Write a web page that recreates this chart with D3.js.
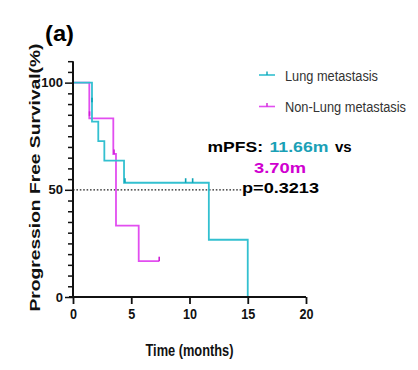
<!DOCTYPE html>
<html><head><meta charset="utf-8">
<script src="https://cdn.jsdelivr.net/npm/d3@7"></script>
<style>
html,body{margin:0;padding:0;background:#fff;}
svg{display:block;font-family:"Liberation Sans",Arial,Helvetica,sans-serif;}
</style></head>
<body><svg id="c" width="418" height="370"></svg>
<script>
// ---- data ----
const seriesNames = ["Lung metastasis", "Non-Lung metastasis"];
const lungTimes    = [0, 1.63, 2.17, 2.69, 4.38, 11.66, 15.0];
const lungSurv     = [100, 81.8, 72.7, 63.6, 53.3, 26.7, 0];
const lungEnd      = 15.0;
const lungCensT    = [1.63, 4.46, 9.67, 10.27];
const lungCensS    = [90.9, 53.3, 53.3, 53.3];
const nonLungTimes = [0, 1.40, 3.46, 3.69, 5.64];
const nonLungSurv  = [100, 83.3, 66.7, 33.3, 16.7];
const nonLungEnd   = 7.4;
const nonLungCensT = [1.42, 3.52, 7.4];
const nonLungCensS = [84.5, 66.7, 16.7];
const xTicks = [0, 5, 10, 15, 20];
const yTickLabels = [0, 50, 100];
const medianLine = 50;

const colLung = "#33c0d0", colLungDark = "#0aa3b5";
const colNon = "#e24ef0", colNonDark = "#cf1fd6";

const svg = d3.select("#c");
const x = d3.scaleLinear().domain([0, 20]).range([73, 306]);
const y = d3.scaleLinear().domain([0, 110]).range([297, 61.2]);

// median dotted line
svg.append("line").attr("x1", x(0)).attr("x2", 242)
  .attr("y1", y(medianLine)).attr("y2", y(medianLine))
  .attr("stroke", "#222").attr("stroke-width", 1.3).attr("stroke-dasharray", "1.6,1.8");

// step paths
function stepPts(ts, ss, end) {
  const pts = ts.map((t, i) => [t, ss[i]]);
  if (end > ts[ts.length - 1]) pts.push([end, ss[ss.length - 1]]);
  return pts;
}
const line = d3.line().x(d => x(d[0])).y(d => y(d[1])).curve(d3.curveStepAfter);
svg.append("path").datum(stepPts(nonLungTimes, nonLungSurv, nonLungEnd))
  .attr("d", line).attr("fill", "none").attr("stroke", colNon).attr("stroke-width", 1.8);
svg.append("path").datum(stepPts(lungTimes, lungSurv, lungEnd))
  .attr("d", line).attr("fill", "none").attr("stroke", colLung).attr("stroke-width", 1.8);

// censor ticks
function cens(ts, ss, col) {
  svg.append("g").selectAll("line").data(ts.map((t, i) => [t, ss[i]])).join("line")
    .attr("x1", d => x(d[0])).attr("x2", d => x(d[0]))
    .attr("y1", d => y(d[1]) - 4.5).attr("y2", d => y(d[1]))
    .attr("stroke", col).attr("stroke-width", 1.6);
}
cens(lungCensT, lungCensS, colLungDark);
cens(nonLungCensT, nonLungCensS, colNonDark);

// y axis
const yMinor = d3.range(0, 111, 5);
const yAxis = d3.axisLeft(y).tickValues(yMinor)
  .tickSize(5).tickPadding(2)
  .tickFormat(d => yTickLabels.includes(d) ? d : "");
const gy = svg.append("g").attr("transform", `translate(${x(0)},0)`).call(yAxis);
gy.select(".domain").attr("stroke", "#111").attr("stroke-width", 2).attr("d", `M0,${y(110)}V${y(0)}`);
gy.selectAll(".tick line").attr("stroke", "#111").attr("stroke-width", 1.5)
  .attr("x2", d => yTickLabels.includes(d) ? -8 : -5);
gy.selectAll(".tick text").attr("x", -10).attr("font-size", 13).attr("font-weight", "bold")
  .attr("fill", "#111").attr("font-family", "Liberation Sans, Arial, sans-serif");

// x axis
const xAxis = d3.axisBottom(x).tickValues(xTicks).tickSize(7).tickPadding(4);
const gx = svg.append("g").attr("transform", `translate(0,${y(0)})`).call(xAxis);
gx.select(".domain").attr("stroke", "#111").attr("stroke-width", 2.2).attr("d", `M${x(0) - 4},0H${x(20)}`);
gx.selectAll(".tick line").attr("stroke", "#111").attr("stroke-width", 1.8);
gx.selectAll(".tick text").attr("font-size", 15).attr("font-weight", "bold").attr("fill", "#111")
  .attr("font-family", "Liberation Sans, Arial, sans-serif")
  .attr("textLength", d => String(d).length * 7).attr("lengthAdjust", "spacingAndGlyphs");

// axis titles
svg.append("text").attr("x", 189.5).attr("y", 356).attr("text-anchor", "middle")
  .attr("font-size", 16).attr("font-weight", "bold").attr("fill", "#111")
  .attr("textLength", 88).attr("lengthAdjust", "spacingAndGlyphs").text("Time (months)");
svg.append("text").attr("transform", "translate(40,177.5) rotate(-90)").attr("text-anchor", "middle")
  .attr("font-size", 14.5).attr("font-weight", "bold").attr("fill", "#111")
  .attr("textLength", 268).attr("lengthAdjust", "spacingAndGlyphs").text("Progression Free Survival(%)");

// panel label
svg.append("text").attr("x", 45).attr("y", 41).attr("font-size", 22).attr("font-weight", "bold")
  .attr("fill", "#000").attr("textLength", 29).attr("lengthAdjust", "spacingAndGlyphs").text("(a)");

// legend
const legCols = [colLung, colNon], legTick = [colLungDark, colNonDark], legY = [75, 106.5], legW = [93, 121];
seriesNames.forEach((n, i) => {
  svg.append("line").attr("x1", 259).attr("x2", 275).attr("y1", legY[i]).attr("y2", legY[i])
    .attr("stroke", legCols[i]).attr("stroke-width", 1.6);
  svg.append("line").attr("x1", 267).attr("x2", 267).attr("y1", legY[i] - 3.5).attr("y2", legY[i])
    .attr("stroke", legTick[i]).attr("stroke-width", 1.4);
  svg.append("text").attr("x", 285).attr("y", legY[i] + 5.5).attr("font-size", 14).attr("fill", "#333")
    .attr("textLength", legW[i]).attr("lengthAdjust", "spacingAndGlyphs").text(n);
});

// annotations
function ann(txt, x0, y0, w, col) {
  svg.append("text").attr("x", x0).attr("y", y0).attr("font-size", 15).attr("font-weight", "bold")
    .attr("fill", col).attr("textLength", w).attr("lengthAdjust", "spacingAndGlyphs").text(txt);
}
ann("mPFS:", 207.5, 152, 55.5, "#000");
ann("11.66m", 269.5, 152, 59, "#1aa0b6");
ann("vs", 335, 152, 16.7, "#000");
ann("3.70m", 254, 173, 52, "#d000d0");
ann("p=0.3213", 242, 193, 77, "#000");
</script></body></html>
